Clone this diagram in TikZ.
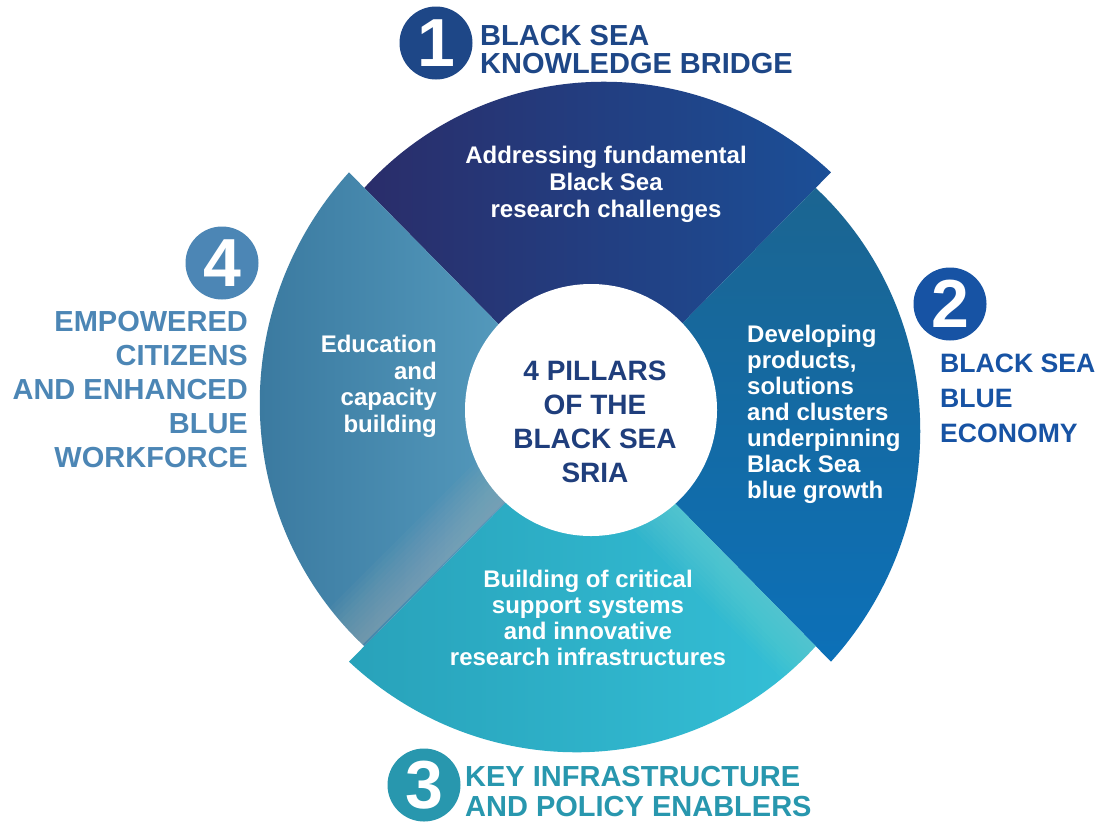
\documentclass[tikz,border=0pt]{standalone}
\usepackage{fontspec}
\setmainfont{Liberation Sans}
\definecolor{sega}{HTML}{2A2D6A}
\definecolor{segb}{HTML}{1B4F97}
\definecolor{segc}{HTML}{1B6591}
\definecolor{segd}{HTML}{0C70B8}
\definecolor{sege}{HTML}{28A2BA}
\definecolor{segf}{HTML}{34C0D7}
\definecolor{segg}{HTML}{3B7AA0}
\definecolor{segh}{HTML}{5CA4C6}
\definecolor{bandfour}{HTML}{9CAFB5}
\definecolor{bandthree}{HTML}{7FD6CF}
\definecolor{labone}{HTML}{1E4787}
\definecolor{labtwo}{HTML}{1753A4}
\definecolor{labthree}{HTML}{2897AE}
\definecolor{labfour}{HTML}{4C86B5}
\definecolor{hubtxt}{HTML}{1F3E7C}
\newcommand\segpath[2]{(590,417) -- plot[domain=#1:#2, samples=90, variable=\a]
    ({590+0.985*(324+22*(#1-\a)/90)*cos(\a)}, {417-(324+22*(#1-\a)/90)*sin(\a)}) -- cycle}
\begin{document}
\begin{tikzpicture}[x=1pt,y=-1pt,
  segtext/.style={text=white, inner sep=0pt, font=\fontsize{24}{26}\selectfont\bfseries},
  pillarlabel/.style={inner sep=0pt, font=\fontsize{29}{34}\selectfont\bfseries},
  numdisc/.style={circle, minimum size=73pt, inner sep=0pt, text=white,
    font=\fontsize{68}{68}\selectfont\bfseries}]
\useasboundingbox (0,0) rectangle (1107,822);
\fill[white] (0,0) rectangle (1107,822);
% ring segments
\shade[left color=sega, right color=segb] \segpath{135}{45};
\shade[top color=segc, bottom color=segd] \segpath{45}{-45};
\shade[left color=sege, right color=segf] \segpath{-45}{-135};
\shade[left color=segg, right color=segh] \segpath{225}{135};
% soft folds at the start of segments 3 and 4
\begin{scope}
  \clip \segpath{225}{135};
  \foreach \k in {1,...,12}
    \fill[bandfour, opacity=0.06] (590,417) -- ++(-260,260) -- ++({-2.9*\k},{-2.9*\k}) -- ++(260,-260) -- cycle;
\end{scope}
\begin{scope}
  \clip \segpath{-45}{-135};
  \foreach \k in {1,...,12}
    \fill[bandthree, opacity=0.05] (590,417) -- ++(260,260) -- ++({-2.9*\k},{2.9*\k}) -- ++(-260,-260) -- cycle;
\end{scope}
% hub
\node[circle, fill=white, minimum size=252pt, inner sep=0pt] (hub) at (591,410) {};
\node[anchor=base, align=center, inner sep=0pt, text=hubtxt,
  font=\fontsize{28}{34}\selectfont\bfseries] (hubtext) at (595,482)
  {4 PILLARS\\OF THE\\BLACK SEA\\SRIA};
% segment texts (anchored at the baseline of the last line)
\node[segtext, anchor=base, align=center, font=\fontsize{24}{27}\selectfont\bfseries] (t1) at (606,217)
  {Addressing fundamental\\Black Sea\\research challenges};
\node[segtext, anchor=base west, align=left] (t2) at (747,498)
  {Developing\\products,\\solutions\\and clusters\\underpinning\\Black Sea\\blue growth};
\node[segtext, anchor=base, align=center] (t3) at (588,665)
  {Building of critical\\support systems\\and innovative\\research infrastructures};
\node[segtext, anchor=base east, align=right, font=\fontsize{24}{26.5}\selectfont\bfseries] (t4) at (437,432)
  {Education\\and\\capacity\\building};
% numbered discs and titles
\node[numdisc, fill=labone] (n1) at (436,43) {1};
\node[pillarlabel, anchor=base west, align=left, text=labone,
  font=\fontsize{29}{28}\selectfont\bfseries] (l1) at (480,73)
  {BLACK SEA\\KNOWLEDGE BRIDGE};
\node[numdisc, fill=labtwo] (n2) at (950,304) {2};
\node[pillarlabel, anchor=base west, align=left, text=labtwo,
  font=\fontsize{26.6}{35}\selectfont\bfseries] (l2) at (940,442)
  {BLACK SEA\\BLUE\\ECONOMY};
\node[numdisc, fill=labthree] (n3) at (424,785) {3};
\node[pillarlabel, anchor=base west, align=left, text=labthree,
  font=\fontsize{29}{30}\selectfont\bfseries] (l3) at (465,816)
  {KEY INFRASTRUCTURE\\AND POLICY ENABLERS};
\node[numdisc, fill=labfour] (n4) at (222,263) {4};
\node[pillarlabel, anchor=base east, align=right, text=labfour] (l4) at (248,467)
  {EMPOWERED\\CITIZENS\\AND ENHANCED\\BLUE\\WORKFORCE};
\end{tikzpicture}
\end{document}
